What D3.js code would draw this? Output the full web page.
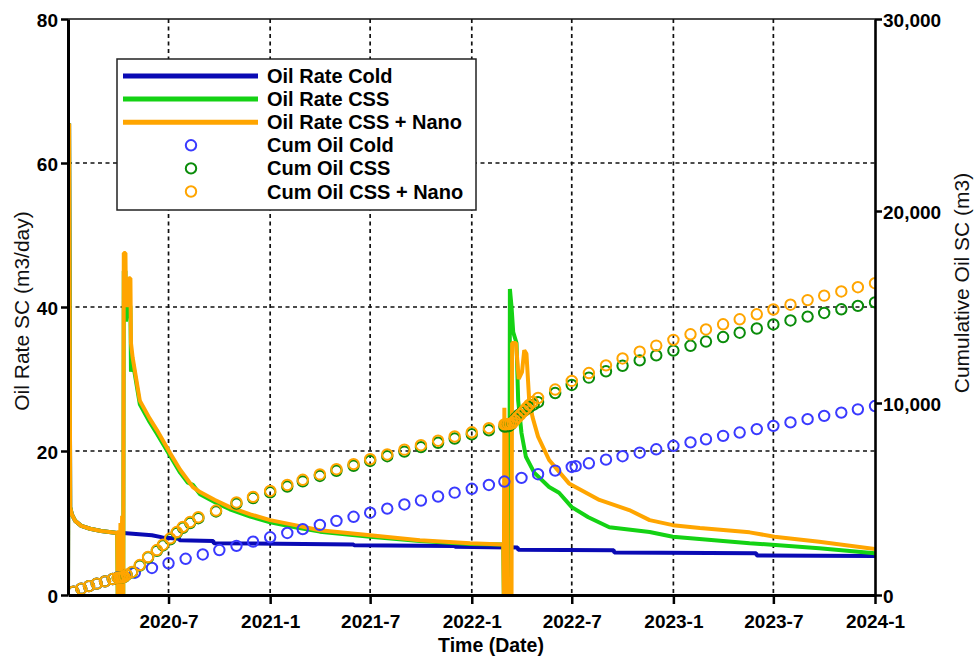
<!DOCTYPE html>
<html>
<head>
<meta charset="utf-8">
<script src="https://cdn.jsdelivr.net/npm/d3@7"></script>
<style>
  body { margin: 0; background: #fff; }
  svg { display: block; font-family: "Liberation Sans", Arial, sans-serif; }
</style>
</head>
<body>
<svg id="chart" width="975" height="660"></svg>
<script>
// Oil rate (m3/day) by date for the three recovery scenarios
const rateCold = [
  ["2020-01-01",0],["2020-01-03",65.5],["2020-01-05",12.2],["2020-01-08",11.2],["2020-01-14",10.3],["2020-01-25",9.6],
  ["2020-02-10",9.2],["2020-03-01",8.9],["2020-03-30",8.6],["2020-04-10",8.6],["2020-06-01",8.3],
  ["2020-06-20",8.0],["2020-07-20",7.8],["2020-07-21",7.6],["2020-09-20",7.5],["2020-09-21",7.2],
  ["2021-06-01",7.0],["2021-06-02",6.9],["2021-12-01",6.8],["2021-12-02",6.7],["2022-03-25",6.6],
  ["2022-03-26",6.3],["2022-09-15",6.2],["2022-09-16",5.9],["2023-05-31",5.8],["2023-06-01",5.5],
  ["2024-01-01",5.4]
];
const rateCss = [
  ["2020-01-01",0],["2020-01-03",65.5],["2020-01-05",12.2],["2020-01-08",11.2],["2020-01-14",10.3],["2020-01-25",9.6],
  ["2020-02-10",9.2],["2020-03-01",8.9],["2020-03-30",8.6],["2020-03-31",0],["2020-04-10",0],
  ["2020-04-11",45],["2020-04-14",45],["2020-04-15",38],["2020-04-20",41],["2020-04-23",40],
  ["2020-04-24",31],["2020-04-27",32.5],["2020-05-10",26.5],["2020-05-28",24],
  ["2020-06-10",22.4],["2020-07-04",19.3],["2020-07-22",17.0],["2020-08-05",15.6],["2020-08-14",15.3],
  ["2020-08-27",14.0],["2020-09-23",12.9],["2020-10-20",11.9],["2020-11-26",10.9],["2021-01-01",10.1],
  ["2021-02-15",9.4],["2021-04-01",8.8],["2021-07-01",8.1],["2021-09-29",7.5],["2021-12-29",7.1],
  ["2022-02-27",7.0],["2022-02-28",0],["2022-03-10",0],["2022-03-11",42.5],["2022-03-14",40],
  ["2022-03-17",36.5],["2022-03-23",35],["2022-03-26",27],["2022-04-01",22.5],["2022-04-09",19.2],
  ["2022-04-24",17],["2022-05-21",15],["2022-06-08",14.2],["2022-07-01",12.2],["2022-07-31",10.8],
  ["2022-09-07",9.4],["2022-11-19",8.75],["2022-12-31",8.1],["2023-05-19",7.2],["2023-09-22",6.5],
  ["2024-01-01",5.8]
];
const rateNano = [
  ["2020-01-01",0],["2020-01-03",65.5],["2020-01-05",12.2],["2020-01-08",11.2],["2020-01-14",10.3],["2020-01-25",9.6],
  ["2020-02-10",9.2],["2020-03-01",8.9],["2020-03-30",8.6],["2020-03-31",0],["2020-04-02",9],
  ["2020-04-03",0],["2020-04-05",10],["2020-04-06",0],["2020-04-08",11],["2020-04-09",0],
  ["2020-04-10",0],["2020-04-11",47.5],["2020-04-14",47.5],["2020-04-15",40],["2020-04-17",42],
  ["2020-04-19",40],["2020-04-20",44],["2020-04-23",44],["2020-04-24",35],["2020-04-27",33],
  ["2020-05-10",27],["2020-05-28",24.5],["2020-06-10",22.9],["2020-07-04",19.7],["2020-07-22",17.4],
  ["2020-08-14",15],["2020-08-27",14.3],["2020-09-23",13.2],["2020-10-20",12.2],["2020-11-26",11.2],
  ["2021-01-01",10.4],["2021-02-15",9.7],["2021-04-01",9.0],["2021-07-01",8.3],["2021-09-29",7.6],
  ["2021-12-29",7.2],["2022-02-27",7.0],["2022-02-28",0],["2022-03-01",26],["2022-03-03",0],
  ["2022-03-05",24],["2022-03-07",0],["2022-03-14",0],["2022-03-15",35],["2022-03-22",35],
  ["2022-03-27",30],["2022-04-02",31],["2022-04-06",34],["2022-04-10",33.5],["2022-04-15",27],
  ["2022-04-21",24.7],["2022-05-01",22],["2022-05-21",18.75],["2022-06-26",15.5],["2022-08-20",13.2],
  ["2022-10-13",11.8],["2022-11-19",10.4],["2022-12-31",9.7],["2023-02-18",9.3],["2023-05-19",8.7],
  ["2023-07-03",8.1],["2023-09-22",7.4],["2024-01-01",6.4]
];

// Cumulative oil (m3) report points
const cumCold = [
  ["2020-01-11",170],["2020-01-25",330],["2020-02-08",460],["2020-02-22",590],["2020-03-08",710],
  ["2020-03-22",830],["2020-04-01",925],["2020-05-01",1160],["2020-06-01",1410],["2020-07-01",1650],
  ["2020-08-01",1885],["2020-09-01",2110],["2020-10-01",2340],["2020-11-01",2560],["2020-12-01",2780],
  ["2021-01-01",3007],["2021-02-01",3230],["2021-03-01",3430],["2021-04-01",3650],["2021-05-01",3860],
  ["2021-06-01",4075],["2021-07-01",4285],["2021-08-01",4500],["2021-09-01",4715],["2021-10-01",4920],
  ["2021-11-01",5130],["2021-12-01",5330],["2022-01-01",5530],["2022-02-01",5730],["2022-03-01",5910],
  ["2022-04-01",6100],["2022-05-01",6290],["2022-06-01",6480],["2022-07-01",6670],["2022-07-08",6710],
  ["2022-08-01",6860],["2022-09-01",7050],["2022-10-01",7230],["2022-11-01",7410],["2022-12-01",7590],
  ["2023-01-01",7770],["2023-02-01",7950],["2023-03-01",8110],["2023-04-01",8290],["2023-05-01",8460],
  ["2023-06-01",8640],["2023-07-01",8810],["2023-08-01",8990],["2023-09-01",9160],["2023-10-01",9330],
  ["2023-11-01",9500],["2023-12-01",9670],["2024-01-01",9840]
];
const cumCss = [
  ["2020-01-11",170],["2020-01-25",330],["2020-02-08",460],["2020-02-22",590],["2020-03-08",710],
  ["2020-03-22",830],["2020-03-31",900],["2020-04-03",905],["2020-04-06",912],["2020-04-09",920],
  ["2020-04-12",950],["2020-04-16",1050],["2020-04-26",1180],["2020-05-10",1530],["2020-05-25",1950],
  ["2020-06-10",2300],["2020-06-21",2580],["2020-07-04",2900],["2020-07-16",3230],["2020-07-27",3500],
  ["2020-08-09",3750],["2020-08-24",4000],["2020-09-25",4350],["2020-11-01",4760],["2020-12-01",5050],
  ["2021-01-01",5350],["2021-02-01",5650],["2021-03-01",5920],["2021-04-01",6200],["2021-05-01",6470],
  ["2021-06-01",6730],["2021-07-01",6980],["2021-08-01",7230],["2021-09-01",7470],["2021-10-01",7700],
  ["2021-11-01",7930],["2021-12-01",8150],["2022-01-01",8370],["2022-02-01",8580],["2022-03-01",8775],
  ["2022-03-05",8785],["2022-03-09",8795],["2022-03-13",8890],["2022-03-17",9040],["2022-03-22",9220],
  ["2022-03-27",9380],["2022-04-02",9520],["2022-04-08",9640],["2022-04-15",9770],["2022-04-23",9910],
  ["2022-05-01",10040],["2022-06-01",10520],["2022-07-01",10940],["2022-08-01",11320],["2022-09-01",11650],
  ["2022-10-01",11940],["2022-11-01",12220],["2022-12-01",12480],["2023-01-01",12730],["2023-02-01",12980],
  ["2023-03-01",13200],["2023-04-01",13435],["2023-05-01",13660],["2023-06-01",13880],["2023-07-01",14090],
  ["2023-08-01",14300],["2023-09-01",14500],["2023-10-01",14690],["2023-11-01",14880],["2023-12-01",15060],
  ["2024-01-01",15240]
];
const cumNano = [
  ["2020-01-11",170],["2020-01-25",330],["2020-02-08",460],["2020-02-22",590],["2020-03-08",710],
  ["2020-03-22",830],["2020-03-31",900],["2020-04-03",905],["2020-04-06",912],["2020-04-09",920],
  ["2020-04-12",960],["2020-04-16",1060],["2020-04-26",1200],["2020-05-10",1560],["2020-05-25",1980],
  ["2020-06-10",2340],["2020-06-21",2620],["2020-07-04",2950],["2020-07-16",3280],["2020-07-27",3550],
  ["2020-08-09",3800],["2020-08-24",4050],["2020-09-25",4400],["2020-11-01",4820],["2020-12-01",5110],
  ["2021-01-01",5420],["2021-02-01",5730],["2021-03-01",6000],["2021-04-01",6280],["2021-05-01",6550],
  ["2021-06-01",6815],["2021-07-01",7070],["2021-08-01",7320],["2021-09-01",7570],["2021-10-01",7800],
  ["2021-11-01",8035],["2021-12-01",8255],["2022-01-01",8475],["2022-02-01",8690],["2022-03-01",8885],
  ["2022-03-04",8895],["2022-03-08",8905],["2022-03-12",8915],["2022-03-16",8960],["2022-03-20",9090],
  ["2022-03-25",9250],["2022-03-30",9400],["2022-04-05",9580],["2022-04-10",9740],["2022-04-15",9900],
  ["2022-04-21",10050],["2022-05-01",10260],["2022-06-01",10700],["2022-07-01",11150],["2022-08-01",11560],
  ["2022-09-01",11960],["2022-10-01",12320],["2022-11-01",12670],["2022-12-01",12990],["2023-01-01",13290],
  ["2023-02-01",13580],["2023-03-01",13830],["2023-04-01",14100],["2023-05-01",14360],["2023-06-01",14620],
  ["2023-07-01",14870],["2023-08-01",15120],["2023-09-01",15360],["2023-10-01",15590],["2023-11-01",15810],
  ["2023-12-01",16030],["2024-01-01",16240]
];

// Axis ticks
const rateTicks = [0, 20, 40, 60, 80];
const cumTicks = [0, 10000, 20000, 30000];
const timeTicks = ["2020-07-01","2021-01-01","2021-07-01","2022-01-01","2022-07-01","2023-01-01","2023-07-01","2024-01-01"];
const timeDomain = ["2020-01-01", "2024-01-01"];

// Legend entries
const legendLines = ["Oil Rate Cold", "Oil Rate CSS", "Oil Rate CSS + Nano"];
const legendMarkers = ["Cum Oil Cold", "Cum Oil CSS", "Cum Oil CSS + Nano"];

const lineColors = ["#0a0ab4", "#14d214", "#ffa500"];
const markerColors = ["#3a3aff", "#0a8c0a", "#ffa500"];

const parse = d3.utcParse("%Y-%m-%d");
const svg = d3.select("#chart");

const L = 68, R = 875, T = 19, B = 595;
const x = d3.scaleUtc().domain(timeDomain.map(parse)).range([L, R]);
const yL = d3.scaleLinear().domain([0, 80]).range([B, T]);
const yR = d3.scaleLinear().domain([0, 30000]).range([B, T]);

svg.append("defs").append("clipPath").attr("id", "plot")
  .append("rect").attr("x", L).attr("y", T - 2).attr("width", R - L).attr("height", B - T + 2);

// Dashed grid
const grid = svg.append("g").attr("stroke", "#111").attr("stroke-width", 1.7).attr("stroke-dasharray", "4,3.5");
grid.selectAll("line.v").data(timeTicks.slice(0, -1).map(parse)).join("line")
  .attr("x1", d => x(d)).attr("x2", d => x(d)).attr("y1", T).attr("y2", B);
grid.selectAll("line.h").data(rateTicks.slice(1, -1)).join("line")
  .attr("x1", L).attr("x2", R).attr("y1", d => yL(d)).attr("y2", d => yL(d));

// Rate lines
const plot = svg.append("g").attr("clip-path", "url(#plot)");
const rateLine = d3.line().x(d => x(parse(d[0]))).y(d => yL(d[1]));
[rateCold, rateCss, rateNano].forEach((s, i) => {
  plot.append("path").datum(s).attr("d", rateLine)
    .attr("fill", "none").attr("stroke", lineColors[i]).attr("stroke-width", 4)
    .attr("stroke-linejoin", "bevel");
});

// Cumulative markers
[cumCold, cumCss, cumNano].forEach((s, i) => {
  plot.append("g").selectAll("circle").data(s).join("circle")
    .attr("cx", d => x(parse(d[0]))).attr("cy", d => yR(d[1])).attr("r", 5.2)
    .attr("fill", "none").attr("stroke", markerColors[i]).attr("stroke-width", 2);
});

// Frame top edge
svg.append("line").attr("x1", L).attr("x2", R).attr("y1", T).attr("y2", T)
  .attr("stroke", "#111").attr("stroke-width", 1.5);

function styleAxis(g, w) {
  g.select(".domain").attr("stroke", "#000").attr("stroke-width", w);
  g.selectAll(".tick line").attr("stroke", "#000").attr("stroke-width", 2.5);
  g.selectAll(".tick text").attr("fill", "#000").attr("font-size", 19).attr("font-weight", "bold")
    .attr("font-family", "Liberation Sans, Arial, sans-serif");
}

const fmtTime = d => `${d.getUTCFullYear()}-${d.getUTCMonth() + 1}`;
svg.append("g").attr("transform", `translate(0,${B})`)
  .call(d3.axisBottom(x).tickValues(timeTicks.map(parse)).tickFormat(fmtTime).tickSize(9).tickSizeOuter(0).tickPadding(11))
  .call(g => styleAxis(g, 3));

svg.append("g").attr("transform", `translate(${L},0)`)
  .call(d3.axisLeft(yL).tickValues(rateTicks).tickSize(7).tickSizeOuter(0).tickPadding(3))
  .call(g => styleAxis(g, 3))
  .call(g => g.selectAll(".tick text").attr("dy", "0.38em"));

svg.append("g").attr("transform", `translate(${R},0)`)
  .call(d3.axisRight(yR).tickValues(cumTicks).tickSize(7).tickSizeOuter(0).tickPadding(1).tickFormat(d3.format(",")))
  .call(g => styleAxis(g, 2.6))
  .call(g => g.selectAll(".tick text").attr("dy", "0.38em"));

// Axis titles
svg.append("text").attr("x", 491).attr("y", 652).attr("text-anchor", "middle")
  .attr("font-size", 19.5).attr("font-weight", "bold").attr("fill", "#000").text("Time (Date)");
svg.append("text").attr("transform", "translate(29,311) rotate(-90)").attr("text-anchor", "middle")
  .attr("font-size", 21).attr("fill", "#111").text("Oil Rate SC (m3/day)");
svg.append("text").attr("transform", "translate(969,283) rotate(-90)").attr("text-anchor", "middle")
  .attr("font-size", 21).attr("fill", "#111").text("Cumulative Oil SC (m3)");

// Legend
const lg = svg.append("g");
lg.append("rect").attr("x", 117).attr("y", 59).attr("width", 359).attr("height", 151)
  .attr("fill", "#fff").attr("stroke", "#222").attr("stroke-width", 1.5);
const rowY = i => 76 + i * 23.1;
legendLines.forEach((t, i) => {
  lg.append("line").attr("x1", 123).attr("x2", 258).attr("y1", rowY(i)).attr("y2", rowY(i))
    .attr("stroke", lineColors[i]).attr("stroke-width", 5);
  lg.append("text").attr("x", 267).attr("y", rowY(i) + 7).attr("font-size", 20).attr("font-weight", "bold")
    .attr("fill", "#000").text(t);
});
legendMarkers.forEach((t, i) => {
  const yy = rowY(i + 3);
  lg.append("circle").attr("cx", 191).attr("cy", yy).attr("r", 5.2)
    .attr("fill", "none").attr("stroke", markerColors[i]).attr("stroke-width", 2);
  lg.append("text").attr("x", 267).attr("y", yy + 7).attr("font-size", 20).attr("font-weight", "bold")
    .attr("fill", "#000").text(t);
});
</script>
</body>
</html>
